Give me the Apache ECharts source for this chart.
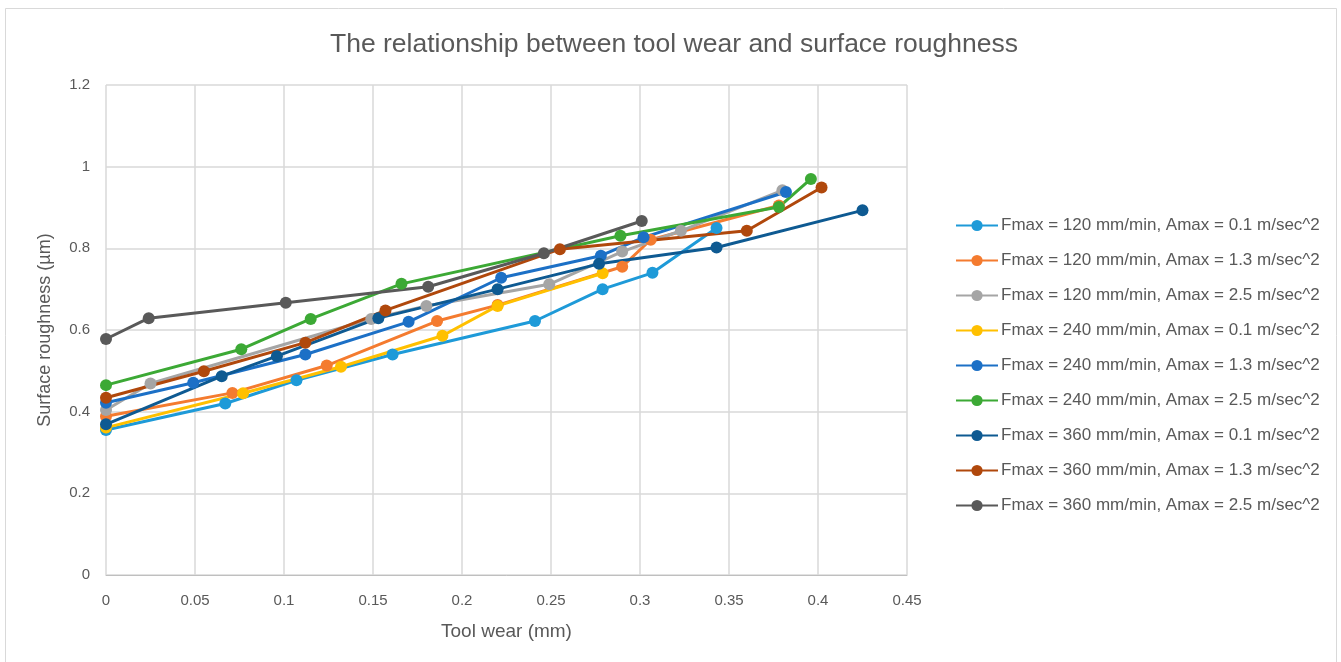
<!DOCTYPE html>
<html>
<head>
<meta charset="utf-8">
<script src="https://cdn.jsdelivr.net/npm/echarts@6/dist/echarts.min.js"></script>
<style>
  html, body { margin: 0; padding: 0; background: #ffffff; }
  #chart { width: 1341px; height: 662px; }
</style>
</head>
<body>
<div id="chart"></div>
<script>
// Tool wear (mm) vs surface roughness (µm), one run per feed / acceleration setting
const seriesNames = [
  'Fmax = 120 mm/min, Amax = 0.1 m/sec^2',
  'Fmax = 120 mm/min, Amax = 1.3 m/sec^2',
  'Fmax = 120 mm/min, Amax = 2.5 m/sec^2',
  'Fmax = 240 mm/min, Amax = 0.1 m/sec^2',
  'Fmax = 240 mm/min, Amax = 1.3 m/sec^2',
  'Fmax = 240 mm/min, Amax = 2.5 m/sec^2',
  'Fmax = 360 mm/min, Amax = 0.1 m/sec^2',
  'Fmax = 360 mm/min, Amax = 1.3 m/sec^2',
  'Fmax = 360 mm/min, Amax = 2.5 m/sec^2'
];

const f120_a01 = [[0,0.355],[0.067,0.420],[0.107,0.477],[0.161,0.540],[0.241,0.622],[0.279,0.700],[0.307,0.740],[0.343,0.850]];
const f120_a13 = [[0,0.389],[0.071,0.446],[0.124,0.513],[0.186,0.622],[0.220,0.661],[0.290,0.755],[0.306,0.821],[0.378,0.905]];
const f120_a25 = [[0,0.404],[0.025,0.469],[0.149,0.627],[0.180,0.659],[0.249,0.712],[0.290,0.792],[0.323,0.843],[0.380,0.942]];
const f240_a01 = [[0,0.361],[0.077,0.445],[0.132,0.510],[0.189,0.586],[0.220,0.659],[0.279,0.739]];
const f240_a13 = [[0,0.422],[0.049,0.471],[0.112,0.540],[0.170,0.620],[0.222,0.728],[0.278,0.782],[0.302,0.827],[0.382,0.938]];
const f240_a25 = [[0,0.465],[0.076,0.553],[0.115,0.627],[0.166,0.713],[0.289,0.831],[0.378,0.901],[0.396,0.970]];
const f360_a01 = [[0,0.369],[0.065,0.487],[0.096,0.536],[0.153,0.629],[0.220,0.700],[0.277,0.762],[0.343,0.802],[0.425,0.893]];
const f360_a13 = [[0,0.434],[0.055,0.499],[0.112,0.569],[0.157,0.648],[0.255,0.798],[0.360,0.843],[0.402,0.949]];
const f360_a25 = [[0,0.578],[0.024,0.629],[0.101,0.667],[0.181,0.706],[0.246,0.788],[0.301,0.867]];

const seriesData = [f120_a01, f120_a13, f120_a25, f240_a01, f240_a13, f240_a25, f360_a01, f360_a13, f360_a25];

const palette = ['#1E9AD8', '#F47B2F', '#A5A5A5', '#FFC000', '#1C70C6', '#3CA935', '#0E5A92', '#B0480C', '#595959'];

const textColor = '#595959';
const fontFamily = 'Liberation Sans, Arial, sans-serif';

const chart = echarts.init(document.getElementById('chart'), null, { renderer: 'canvas' });

chart.setOption({
  backgroundColor: '#ffffff',
  color: palette,
  animation: false,
  textStyle: { fontFamily: fontFamily, color: textColor },
  graphic: [{
    type: 'rect',
    shape: { x: 5.5, y: 8.5, width: 1331, height: 660 },
    style: { fill: 'none', stroke: '#d9d9d9', lineWidth: 1 },
    silent: true
  }],
  title: {
    text: 'The relationship between tool wear and surface roughness',
    left: 669,
    textAlign: 'center',
    top: 26,
    textStyle: { fontFamily: fontFamily, fontSize: 26.5, fontWeight: 'normal', color: textColor }
  },
  grid: { left: 106, top: 85, width: 801, height: 490, containLabel: false },
  legend: {
    orient: 'vertical',
    left: 950,
    top: 212,
    itemWidth: 42,
    itemHeight: 14,
    itemGap: 18,
    textStyle: { fontFamily: fontFamily, fontSize: 17, color: textColor, padding: [0, 0, 0, -2] },
    data: seriesNames
  },
  xAxis: {
    type: 'value',
    min: 0,
    max: 0.45,
    interval: 0.05,
    name: 'Tool wear (mm)',
    nameLocation: 'middle',
    nameGap: 47,
    nameTextStyle: { fontFamily: fontFamily, fontSize: 19, color: textColor },
    axisLine: { show: true, lineStyle: { color: '#bfbfbf', width: 1 } },
    axisTick: { show: false },
    axisLabel: { margin: 18, fontSize: 15, color: textColor, fontFamily: fontFamily,
      formatter: v => String(+v.toFixed(2)) },
    splitLine: { show: true, lineStyle: { color: '#d9d9d9', width: 1.5 } }
  },
  yAxis: {
    type: 'value',
    min: 0,
    max: 1.2,
    interval: 0.2,
    name: 'Surface roughness (µm)',
    nameLocation: 'middle',
    nameGap: 52,
    nameRotate: 90,
    nameTextStyle: { fontFamily: fontFamily, fontSize: 18, color: textColor },
    axisLine: { show: false },
    axisTick: { show: false },
    axisLabel: { margin: 16, fontSize: 15, color: textColor, fontFamily: fontFamily,
      formatter: v => String(+v.toFixed(1)) },
    splitLine: { show: true, lineStyle: { color: '#d9d9d9', width: 1.5 } }
  },
  series: seriesNames.map((name, i) => ({
    name: name,
    type: 'line',
    data: seriesData[i],
    symbol: 'circle',
    symbolSize: 12,
    showSymbol: true,
    lineStyle: { width: 3, color: palette[i] },
    itemStyle: { color: palette[i] },
    emphasis: { disabled: true }
  }))
});
</script>
</body>
</html>
